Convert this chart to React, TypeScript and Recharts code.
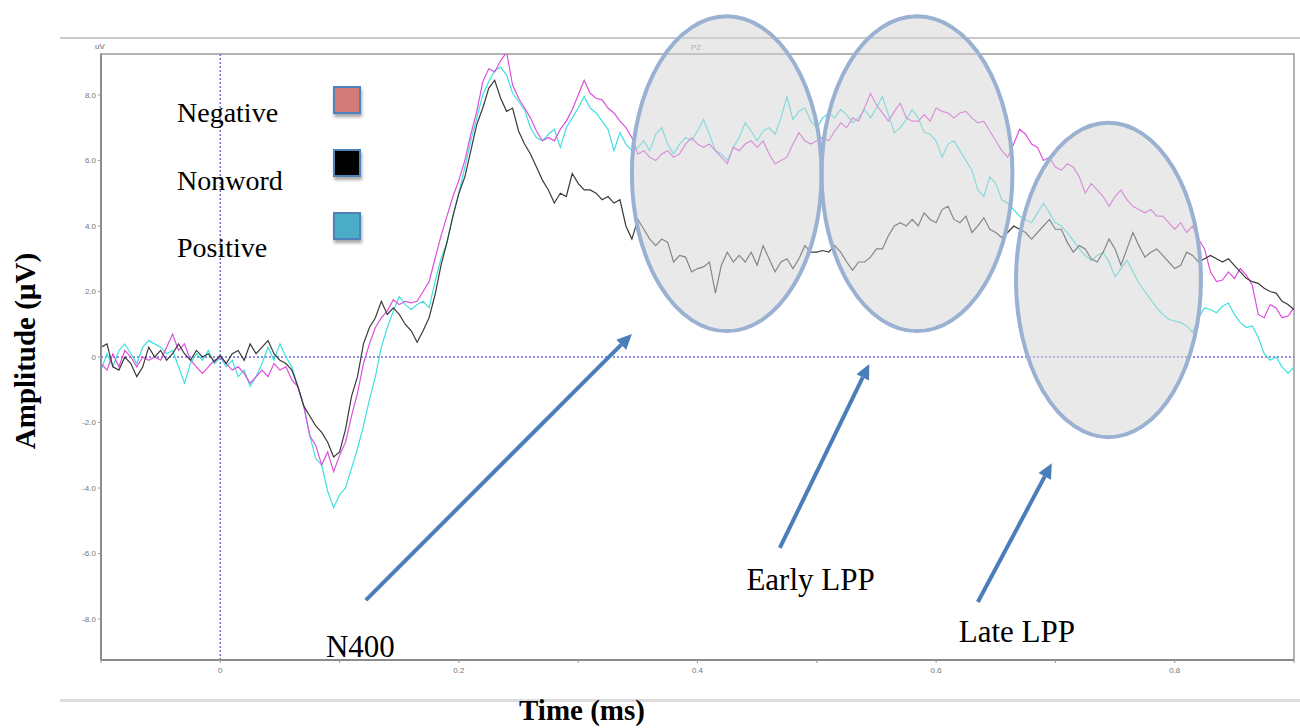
import React from 'react';
import { LineChart, Line, XAxis, YAxis, ReferenceLine, ReferenceArea, ReferenceDot, Legend } from 'recharts';

// ERP at PZ, sampled every 5 ms from -100 ms
const T0 = -0.1;
const STEP = 0.005;

const negative = [
  -0.2, -0.4, 0.1, -0.3, 0.2, 0.0, -0.3, 0.0, -0.1, 0.0, -0.1, 0.3, 0.7, 0.2, 0.4, -0.1, -0.3, -0.5, -0.3, -0.1, 0.0,
  -0.2, -0.4, -0.3, -0.5, -0.8, -0.6, -0.4, -0.6, -0.2, -0.4, -0.3, -0.7, -0.9, -1.5, -2.4, -2.7, -3.3, -2.9, -3.5, -3.0,
  -2.6, -1.8, -1.1, -0.2, 0.4, 0.9, 1.2, 1.4, 1.75, 1.6, 1.7, 1.65, 1.7, 2.0, 2.3, 3.0, 3.7, 4.3, 4.9, 5.4,
  6.0, 6.8, 7.5, 8.4, 8.8, 8.7, 9.05, 9.3, 8.3, 7.9, 7.6, 7.3, 6.9, 6.6, 6.7, 6.6, 6.95, 7.2, 7.55, 8.0,
  8.45, 8.05, 7.9, 7.85, 7.6, 7.45, 7.2, 7.0, 6.7, 6.2, 6.3, 6.1, 6.0, 6.2, 6.3, 6.1, 6.2, 6.5, 6.7, 6.5,
  6.4, 6.5, 6.3, 6.1, 5.9, 6.4, 6.3, 6.5, 6.6, 6.4, 6.6, 6.2, 5.9, 6.0, 6.1, 6.5, 6.85, 6.6, 6.5, 6.6,
  6.7, 6.6, 6.9, 7.15, 7.0, 7.3, 7.2, 7.6, 8.05, 7.7, 7.45, 7.2, 7.5, 7.75, 7.3, 7.2, 7.2, 7.4, 7.2, 7.6,
  7.5, 7.45, 7.3, 7.45, 7.5, 7.3, 7.15, 7.2, 6.9, 6.6, 6.3, 6.1, 6.5, 6.95, 6.8, 6.5, 6.4, 6.0, 6.1, 5.8,
  5.7, 5.9, 5.8, 5.5, 5.0, 5.3, 5.1, 4.9, 4.6, 4.9, 5.1, 4.8, 4.6, 4.5, 4.4, 4.5, 4.3, 4.3, 4.1, 3.9,
  4.1, 3.8, 4.0, 3.6, 3.3, 2.6, 2.3, 2.35, 2.6, 2.4, 2.7, 2.5, 2.2, 1.3, 1.2, 1.6, 1.5, 1.2, 1.25, 1.5,
];

const nonword = [
  0.3, 0.4, -0.3, -0.4, 0.0, -0.2, -0.6, -0.3, 0.3, 0.0, 0.2, -0.1, 0.1, 0.4, 0.1, -0.1, 0.2, 0.0, 0.1, -0.15, 0.05,
  -0.2, 0.1, 0.2, -0.1, 0.4, 0.1, 0.3, 0.5, 0.1, -0.1, -0.2, -0.4, -0.9, -1.5, -1.8, -2.1, -2.3, -2.6, -3.05, -2.9,
  -2.2, -1.2, -0.6, 0.4, 0.9, 1.2, 1.7, 1.3, 1.5, 1.3, 1.0, 0.8, 0.45, 0.8, 1.2, 1.9, 2.8, 3.5, 4.3, 5.0,
  5.5, 6.3, 7.1, 7.6, 8.2, 8.45, 7.9, 7.5, 7.6, 6.9, 6.5, 6.2, 5.8, 5.4, 5.1, 4.7, 5.0, 4.9, 5.6, 5.3,
  5.1, 5.1, 5.0, 4.8, 4.9, 4.7, 4.8, 4.0, 3.6, 4.2, 3.9, 3.6, 3.4, 3.6, 3.5, 2.9, 3.1, 3.05, 2.6, 2.7,
  2.75, 2.9, 1.95, 2.8, 3.2, 2.9, 3.1, 2.9, 3.2, 2.8, 3.4, 3.0, 2.6, 2.9, 3.0, 2.7, 3.0, 3.4, 3.2, 3.2,
  3.25, 3.2, 3.4, 3.2, 2.9, 2.65, 2.9, 2.9, 3.05, 3.3, 3.3, 3.7, 4.0, 4.1, 4.0, 4.2, 4.0, 4.4, 4.2, 4.1,
  4.5, 4.6, 4.2, 4.1, 4.3, 3.8, 4.0, 4.25, 3.9, 3.8, 3.65, 3.8, 4.0, 3.9, 3.8, 3.6, 3.8, 4.0, 4.2, 3.9,
  3.9, 3.5, 3.2, 3.4, 3.3, 3.0, 2.9, 3.2, 3.6, 3.3, 2.8, 3.3, 3.8, 3.4, 3.05, 3.2, 3.3, 3.1, 2.9, 2.7,
  2.8, 3.2, 3.1, 2.9, 3.0, 3.1, 3.0, 2.9, 3.0, 2.8, 2.6, 2.4, 2.3, 2.25, 2.1, 2.0, 1.95, 1.7, 1.6, 1.45,
];

const positive = [
  -0.4, 0.1, -0.3, 0.2, 0.4, 0.1, -0.2, 0.3, 0.5, 0.4, 0.3, 0.1, 0.2, -0.3, -0.8, -0.2, 0.1, -0.1, 0.2, -0.2, 0.0,
  -0.3, -0.1, -0.6, -0.4, -0.9, -0.6, -0.2, 0.3, -0.1, 0.4, 0.0, -0.3, -0.9, -1.5, -2.4, -3.1, -3.3, -4.1, -4.6, -4.2,
  -4.0, -3.4, -2.8, -2.1, -1.3, -0.6, 0.3, 0.9, 1.4, 1.85, 1.6, 1.45, 1.6, 1.7, 1.5, 2.3, 3.0, 3.5, 4.3, 5.0,
  5.8, 6.6, 7.3, 8.0, 8.4, 8.75, 8.85, 8.6, 8.05, 7.8, 7.55, 7.0, 6.7, 6.6, 6.8, 6.95, 6.4, 7.0, 7.3, 7.6,
  7.95, 7.6, 7.45, 7.2, 6.95, 6.3, 6.85, 6.5, 6.3, 6.4, 6.6, 6.3, 6.8, 7.0, 6.5, 6.2, 6.5, 6.7, 6.6, 6.9,
  7.25, 6.8, 6.3, 6.2, 6.0, 6.4, 6.7, 7.15, 6.9, 6.6, 6.9, 7.0, 6.8, 7.3, 7.95, 7.25, 7.5, 7.6, 7.2, 7.0,
  7.3, 7.45, 7.3, 7.55, 7.4, 7.15, 7.3, 7.55, 7.3, 7.6, 7.95, 7.4, 6.85, 7.0, 7.25, 7.55, 7.3, 6.85, 6.8, 6.6,
  6.1, 6.5, 6.6, 6.3, 6.0, 5.7, 5.1, 4.9, 5.5, 5.3, 4.8, 4.7, 4.5, 4.3, 4.2, 4.1, 4.4, 4.7, 4.4, 4.1,
  4.0, 3.8, 3.55, 3.3, 3.1, 2.95, 3.1, 3.2, 2.9, 2.45, 2.7, 2.95, 2.6, 2.25, 2.0, 1.75, 1.5, 1.3, 1.15, 1.1,
  1.05, 0.95, 0.75, 1.2, 1.5, 1.45, 1.35, 1.55, 1.65, 1.3, 1.05, 0.9, 0.95, 0.6, 0.1, -0.1, 0.0, -0.3, -0.5, -0.3,
];

const xTicks = [-0.1, 0, 0.1, 0.2, 0.3, 0.4, 0.5, 0.6, 0.7, 0.8, 0.9];
const xLabelled = [0, 0.2, 0.4, 0.6, 0.8];
const yTicks = [-8, -6, -4, -2, 0, 2, 4, 6, 8];

const seriesNames = ['Negative', 'Nonword', 'Positive'];
const lineColors = ['#dd4fdd', '#3a3a3a', '#3fe0e0'];
const swatchColors = ['#d17c79', '#000000', '#4bacc6'];

// annotated windows (time, µV) and arrows
const windows = [
  { x1: 0.345, x2: 0.504, y1: 0.79, y2: 10.4 },
  { x1: 0.504, x2: 0.664, y1: 0.79, y2: 10.4 },
  { x1: 0.667, x2: 0.822, y1: -2.45, y2: 7.15 },
];
const arrows = [
  { from: { x: 0.122, y: -7.42 }, to: { x: 0.345, y: 0.7 } },
  { from: { x: 0.469, y: -5.83 }, to: { x: 0.544, y: -0.21 } },
  { from: { x: 0.635, y: -7.48 }, to: { x: 0.697, y: -3.24 } },
];
const notes = [
  { text: 'N400', x: 0.0886, y: -9.16 },
  { text: 'Early LPP', x: 0.441, y: -7.1 },
  { text: 'Late LPP', x: 0.619, y: -8.7 },
];

const data = negative.map((v, i) => ({
  t: +(T0 + i * STEP).toFixed(3),
  Negative: v,
  Nonword: nonword[i],
  Positive: positive[i],
}));

const serif = '"Liberation Serif", "Times New Roman", serif';
const tickStyle = { fontSize: 8, fill: '#777', fontFamily: '"Liberation Sans", Arial, sans-serif' };
const arrowColor = '#4a7ebb';

const Ellipse = (p: any) => (
  <ellipse
    cx={p.x + p.width / 2}
    cy={p.y + p.height / 2}
    rx={p.width / 2}
    ry={p.height / 2}
    fill="rgba(212,212,212,0.5)"
    stroke="#9ab1d2"
    strokeWidth={4}
  />
);

const Arrow = (p: any) => {
  const { x1, y1, x2, y2 } = p;
  const a = Math.atan2(y2 - y1, x2 - x1);
  const len = 15;
  const half = 7;
  const bx = x2 - len * Math.cos(a);
  const by = y2 - len * Math.sin(a);
  const pts = `${x2},${y2} ${bx + half * Math.sin(a)},${by - half * Math.cos(a)} ${bx - half * Math.sin(a)},${by + half * Math.cos(a)}`;
  return (
    <g>
      <line x1={x1} y1={y1} x2={bx} y2={by} stroke={arrowColor} strokeWidth={4} />
      <polygon points={pts} fill={arrowColor} />
    </g>
  );
};

const LegendBox = () => (
  <div style={{ position: 'relative', width: 220, height: 180, fontFamily: serif }}>
    {seriesNames.map((name, i) => (
      <React.Fragment key={name}>
        <div style={{ position: 'absolute', left: 7, top: 21 + i * 67.5, fontSize: 28, lineHeight: '28px', color: '#000', whiteSpace: 'nowrap' }}>
          {name}
        </div>
        <div
          style={{
            position: 'absolute',
            left: 163,
            top: 8 + i * 63,
            width: 24,
            height: 24,
            background: swatchColors[i],
            border: '2px solid #4f81bd',
            boxShadow: '1px 3px 3px rgba(0,0,0,0.35)',
          }}
        />
      </React.Fragment>
    ))}
  </div>
);

export default function App() {
  return (
    <div style={{ position: 'absolute', left: 0, top: 0, width: 1300, height: 728, background: '#fff', overflow: 'hidden' }}>
      {/* window chrome of the acquisition software */}
      <div style={{ position: 'absolute', left: 60, top: 37, width: 1240, height: 2, background: '#c9c9c9' }} />
      <div style={{ position: 'absolute', left: 60, top: 699, width: 1240, height: 3, background: '#dcdcdc' }} />
      <div style={{ position: 'absolute', left: 95, top: 42, fontSize: 8, color: '#666', fontFamily: 'Arial, sans-serif' }}>uV</div>
      <div style={{ position: 'absolute', left: 691, top: 43, fontSize: 8, color: '#888', fontFamily: 'Arial, sans-serif' }}>PZ</div>

      <LineChart width={1300} height={728} data={data} margin={{ top: 54, right: 6, left: 0, bottom: 38 }}>
        <XAxis
          dataKey="t"
          type="number"
          domain={[-0.1, 0.9]}
          ticks={xTicks}
          tickFormatter={(v: number) => (xLabelled.some((l) => Math.abs(l - v) < 1e-6) ? String(+v.toFixed(1)) : '')}
          tick={tickStyle}
          tickSize={3}
          tickMargin={4}
          height={30}
          stroke="#999"
          axisLine={{ stroke: '#8c8c8c', strokeWidth: 2 }}
          allowDataOverflow
        />
        <YAxis
          type="number"
          domain={[-9.25, 9.25]}
          ticks={yTicks}
          tickFormatter={(v: number) => (v === 0 ? '0' : v.toFixed(1))}
          tick={tickStyle}
          tickSize={3}
          tickMargin={2}
          width={101}
          stroke="#999"
          axisLine={{ stroke: '#8c8c8c', strokeWidth: 2 }}
          allowDataOverflow
        />
        <ReferenceArea x1={-0.1} x2={0.9} y1={-9.25} y2={9.25} fill="none" stroke="#9a9a9a" strokeWidth={1.5} ifOverflow="visible" />
        <ReferenceLine x={0} stroke="#6b6bd6" strokeDasharray="2 2" strokeWidth={1.5} />
        <ReferenceLine y={0} stroke="#6b6bd6" strokeDasharray="2 2" strokeWidth={1.5} />

        <Line dataKey="Positive" type="linear" stroke={lineColors[2]} strokeWidth={1.2} dot={false} isAnimationActive={false} />
        <Line dataKey="Negative" type="linear" stroke={lineColors[0]} strokeWidth={1.2} dot={false} isAnimationActive={false} />
        <Line dataKey="Nonword" type="linear" stroke={lineColors[1]} strokeWidth={1.2} dot={false} isAnimationActive={false} />

        {windows.map((w, i) => (
          <ReferenceArea key={`w${i}`} {...w} ifOverflow="visible" shape={Ellipse} zIndex={450} />
        ))}
        {arrows.map((a, i) => (
          <ReferenceLine key={`a${i}`} segment={[a.from, a.to]} ifOverflow="visible" shape={Arrow} zIndex={460} />
        ))}
        {notes.map((n) => (
          <ReferenceDot
            key={n.text}
            x={n.x}
            y={n.y}
            r={1}
            ifOverflow="visible"
            zIndex={470}
            shape={(p: any) => (
              <text x={p.cx} y={p.cy} fontFamily={serif} fontSize={31} fill="#000">
                {n.text}
              </text>
            )}
          />
        ))}

        <Legend
          layout="horizontal"
          verticalAlign="middle"
          align="center"
          wrapperStyle={{ left: 170, top: 78, width: 220, height: 180 }}
          content={() => <LegendBox />}
        />
      </LineChart>

      <div
        style={{
          position: 'absolute',
          left: 25,
          top: 351,
          transform: 'translate(-50%, -50%) rotate(-90deg)',
          fontFamily: serif,
          fontWeight: 'bold',
          fontSize: 29,
          whiteSpace: 'nowrap',
          color: '#000',
        }}
      >
        Amplitude (µV)
      </div>
      <div
        style={{
          position: 'absolute',
          left: 519,
          top: 694,
          fontFamily: serif,
          fontWeight: 'bold',
          fontSize: 29,
          lineHeight: '32px',
          whiteSpace: 'nowrap',
          color: '#000',
        }}
      >
        Time (ms)
      </div>
    </div>
  );
}
